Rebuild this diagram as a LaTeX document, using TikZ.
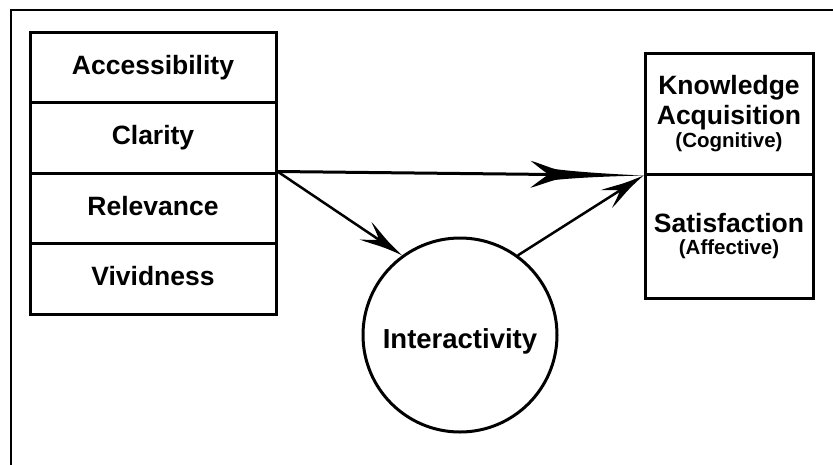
\documentclass[tikz,border=0pt]{standalone}
\usepackage{fontspec}
\setmainfont{Liberation Sans}
\usetikzlibrary{arrows.meta}

\pgfdeclarearrow{
  name=Dart,
  parameters={\the\pgfarrowlength,\the\pgfarrowwidth},
  setup code={
    \pgfarrowssettipend{0pt}
    \pgfarrowssetbackend{-\pgfarrowlength}
    \pgfarrowssetlineend{-0.8\pgfarrowlength}
    \pgfarrowssavethe\pgfarrowlength
    \pgfarrowssavethe\pgfarrowwidth
  },
  drawing code={
    \pgfpathmoveto{\pgfqpoint{0pt}{0pt}}
    \pgfpathcurveto{\pgfqpoint{-0.3\pgfarrowlength}{0.04\pgfarrowwidth}}{\pgfqpoint{-0.6\pgfarrowlength}{0.11\pgfarrowwidth}}{\pgfqpoint{-0.78\pgfarrowlength}{0.2\pgfarrowwidth}}
    \pgfpathcurveto{\pgfqpoint{-0.85\pgfarrowlength}{0.28\pgfarrowwidth}}{\pgfqpoint{-0.93\pgfarrowlength}{0.42\pgfarrowwidth}}{\pgfqpoint{-\pgfarrowlength}{0.5\pgfarrowwidth}}
    \pgfpathcurveto{\pgfqpoint{-0.95\pgfarrowlength}{0.33\pgfarrowwidth}}{\pgfqpoint{-0.89\pgfarrowlength}{0.14\pgfarrowwidth}}{\pgfqpoint{-0.84\pgfarrowlength}{0pt}}
    \pgfpathcurveto{\pgfqpoint{-0.89\pgfarrowlength}{-0.14\pgfarrowwidth}}{\pgfqpoint{-0.95\pgfarrowlength}{-0.33\pgfarrowwidth}}{\pgfqpoint{-\pgfarrowlength}{-0.5\pgfarrowwidth}}
    \pgfpathcurveto{\pgfqpoint{-0.93\pgfarrowlength}{-0.42\pgfarrowwidth}}{\pgfqpoint{-0.85\pgfarrowlength}{-0.28\pgfarrowwidth}}{\pgfqpoint{-0.78\pgfarrowlength}{-0.2\pgfarrowwidth}}
    \pgfpathcurveto{\pgfqpoint{-0.6\pgfarrowlength}{-0.11\pgfarrowwidth}}{\pgfqpoint{-0.3\pgfarrowlength}{-0.04\pgfarrowwidth}}{\pgfqpoint{0pt}{0pt}}
    \pgfpathclose
    \pgfusepathqfill
  },
  defaults={length=40pt,width=18pt}
}

\pgfdeclarearrow{
  name=Thorn,
  parameters={\the\pgfarrowlength,\the\pgfarrowwidth},
  setup code={
    \pgfarrowssettipend{0pt}
    \pgfarrowssetbackend{-\pgfarrowlength}
    \pgfarrowssetlineend{-0.6\pgfarrowlength}
    \pgfarrowssavethe\pgfarrowlength
    \pgfarrowssavethe\pgfarrowwidth
  },
  drawing code={
    \pgfpathmoveto{\pgfqpoint{0pt}{0pt}}
    \pgfpathcurveto{\pgfqpoint{-0.3\pgfarrowlength}{0.1\pgfarrowwidth}}{\pgfqpoint{-0.5\pgfarrowlength}{0.2\pgfarrowwidth}}{\pgfqpoint{-0.65\pgfarrowlength}{0.3\pgfarrowwidth}}
    \pgfpathcurveto{\pgfqpoint{-0.8\pgfarrowlength}{0.39\pgfarrowwidth}}{\pgfqpoint{-0.9\pgfarrowlength}{0.46\pgfarrowwidth}}{\pgfqpoint{-\pgfarrowlength}{0.5\pgfarrowwidth}}
    \pgfpathcurveto{\pgfqpoint{-0.86\pgfarrowlength}{0.32\pgfarrowwidth}}{\pgfqpoint{-0.72\pgfarrowlength}{0.16\pgfarrowwidth}}{\pgfqpoint{-0.64\pgfarrowlength}{0pt}}
    \pgfpathcurveto{\pgfqpoint{-0.72\pgfarrowlength}{-0.16\pgfarrowwidth}}{\pgfqpoint{-0.86\pgfarrowlength}{-0.32\pgfarrowwidth}}{\pgfqpoint{-\pgfarrowlength}{-0.5\pgfarrowwidth}}
    \pgfpathcurveto{\pgfqpoint{-0.9\pgfarrowlength}{-0.46\pgfarrowwidth}}{\pgfqpoint{-0.8\pgfarrowlength}{-0.39\pgfarrowwidth}}{\pgfqpoint{-0.65\pgfarrowlength}{-0.3\pgfarrowwidth}}
    \pgfpathcurveto{\pgfqpoint{-0.5\pgfarrowlength}{-0.2\pgfarrowwidth}}{\pgfqpoint{-0.3\pgfarrowlength}{-0.1\pgfarrowwidth}}{\pgfqpoint{0pt}{0pt}}
    \pgfpathclose
    \pgfusepathqfill
  },
  defaults={length=40pt,width=18pt}
}

\tikzset{
  lbl/.style={font=\fontsize{26.5}{30}\selectfont\bfseries},
  leftbox/.style={lbl, draw, line width=3pt, minimum width=246pt, minimum height=70.5pt,
    inner sep=0pt, text height=19pt, text depth=5pt},
  rightbox/.style={lbl, draw, line width=3pt, minimum width=168pt, inner sep=0pt, align=center},
  circ/.style={font=\fontsize{27.5}{30}\selectfont\bfseries, draw, circle, line width=3pt,
    minimum size=194pt, inner sep=0pt, text height=26pt, text depth=0pt},
  bigarrow/.style={line width=3pt, -{Dart[length=113pt,width=27pt]}},
  smallarrow/.style={line width=2.5pt, -{Thorn[length=44pt,width=21pt]}},
  frame/.style={line width=2.5pt}
}

\begin{document}
\begin{tikzpicture}[x=1pt,y=-1pt]
\useasboundingbox (0,0) rectangle (833,464);
\fill[white] (0,0) rectangle (833,464);
\draw[frame] (11,10) rectangle (860,490);

\node[leftbox] (acc) at (153,67.25) {Accessibility};
\node[leftbox] (cla) at (153,137.75) {Clarity};
\node[leftbox] (rel) at (153,208.25) {Relevance};
\node[leftbox] (viv) at (153,278.75) {Vividness};

\node[rightbox, minimum height=121pt] (kno) at (729,113.5)
  {Knowledge\\Acquisition\\[-7pt]{\fontsize{20.5}{23}\selectfont (Cognitive)}};
\node[rightbox, minimum height=124pt] (sat) at (729,236)
  {Satisfaction\\[-8pt]{\fontsize{20.5}{23}\selectfont (Affective)}};

\node[circ] (inter) at (460,335) {Interactivity};

\draw[bigarrow] (rel.north east) -- (kno.south west);
\draw[smallarrow] (rel.north east) -- (inter.126);
\draw[smallarrow] (inter.54) -- (kno.south west);
\end{tikzpicture}
\end{document}
